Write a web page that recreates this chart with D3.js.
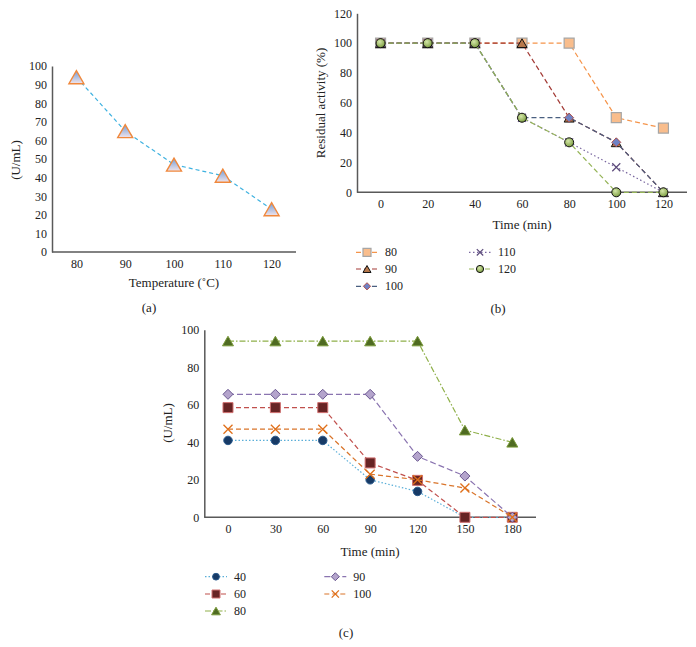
<!DOCTYPE html>
<html>
<head>
<meta charset="utf-8">
<script src="https://cdn.jsdelivr.net/npm/d3@7"></script>
<style>
  html, body { margin: 0; padding: 0; background: #fff; }
  svg { display: block; }
  text { font-family: "Liberation Serif", "DejaVu Serif", serif; fill: #222; }
</style>
</head>
<body>
<svg id="chart" width="696" height="647"></svg>
<script>
// ---------- DATA ----------
const tempCats = [80, 90, 100, 110, 120];
const activityA = [94, 65, 47, 41, 23];

const timeB = [0, 20, 40, 60, 80, 100, 120];
const seriesNamesB = ["80", "90", "100", "110", "120"];
const b80  = [100, 100, 100, 100, 100, 50, 43];
const b90  = [100, 100, 100, 100, 50, 33.5, 0];
const b100 = [100, 100, 100, 50, 50, 33.5, 0];
const b110 = [100, 100, 100, 50, 33.5, 16.8, 0];
const b120 = [100, 100, 100, 50, 33.5, 0, 0];

const timeC = [0, 30, 60, 90, 120, 150, 180];
const seriesNamesC = ["40", "60", "80", "90", "100"];
const c40  = [41, 41, 41, 20, 13.8, 0, 0];
const c60  = [58.5, 58.5, 58.5, 29, 19.7, 0, 0];
const c80  = [94, 94, 94, 94, 94, 46.5, 40];
const c90  = [65.6, 65.6, 65.6, 65.6, 32.5, 22, 0];
const c100 = [47, 47, 47, 23, 20, 15.6, 0];

const ticksA = [0, 10, 20, 30, 40, 50, 60, 70, 80, 90, 100];
const ticksB = [0, 20, 40, 60, 80, 100, 120];
const ticksC = [0, 20, 40, 60, 80, 100];

// ---------- HELPERS ----------
const svg = d3.select("#chart");
const defs = svg.append("defs");

const gA = defs.append("linearGradient").attr("id", "gradA").attr("x1", 0).attr("y1", 0).attr("x2", 0).attr("y2", 1);
gA.append("stop").attr("offset", "0%").attr("stop-color", "#6f9bd6");
gA.append("stop").attr("offset", "100%").attr("stop-color", "#f2e4ea");
const gG = defs.append("radialGradient").attr("id", "gradG").attr("cx", "40%").attr("cy", "35%").attr("r", "65%");
gG.append("stop").attr("offset", "0%").attr("stop-color", "#d4e6a8");
gG.append("stop").attr("offset", "100%").attr("stop-color", "#7fa044");

function markerPath(type, s) {
  const h = s / 2;
  switch (type) {
    case "square": return `M${-h},${-h}H${h}V${h}H${-h}Z`;
    case "diamond": return `M0,${-h}L${h},0L0,${h}L${-h},0Z`;
    case "triangle": { const th = s * 0.87; return `M0,${-th/2}L${h},${th/2}L${-h},${th/2}Z`; }
    case "circle": return `M${h},0A${h},${h} 0 1,1 ${-h},0A${h},${h} 0 1,1 ${h},0Z`;
    case "x": return `M${-h},${-h}L${h},${h}M${-h},${h}L${h},${-h}`;
  }
}

function drawAxes(g, x, y, ticks, x0, x1) {
  const ax = g.append("g").attr("transform", `translate(0,${y(0)})`)
    .call(d3.axisBottom(x).tickSize(0).tickSizeOuter(0).tickPadding(7));
  ax.select(".domain").attr("d", `M${x0},0H${x1}`);
  const ay = g.append("g").attr("transform", `translate(${x0},0)`)
    .call(d3.axisLeft(y).tickValues(ticks).tickSize(0).tickSizeOuter(0).tickPadding(5));
  [ax, ay].forEach(a => {
    a.select(".domain").attr("stroke", "#595959").attr("stroke-width", 1.5);
    a.selectAll("text").attr("font-family", "Liberation Serif").attr("font-size", 12).attr("fill", "#222");
  });
}

function drawSeries(g, x, y, cats, vals, st) {
  const line = d3.line().x((d, i) => x(cats[i])).y(d => y(d));
  g.append("path").datum(vals).attr("d", line)
    .attr("fill", "none").attr("stroke", st.line).attr("stroke-width", st.lw || 1.2)
    .attr("stroke-dasharray", st.dash);
  g.selectAll(null).data(vals).enter().append("path")
    .attr("transform", (d, i) => `translate(${x(cats[i])},${y(d)})`)
    .attr("d", markerPath(st.shape, st.size))
    .attr("fill", st.shape === "x" ? "none" : st.fill)
    .attr("stroke", st.stroke).attr("stroke-width", st.sw || 1);
}

function legendItem(g, lx, ly, label, st) {
  g.append("line").attr("x1", lx - 11).attr("x2", lx + 11).attr("y1", ly).attr("y2", ly)
    .attr("stroke", st.line).attr("stroke-width", st.lw || 1.2).attr("stroke-dasharray", st.dash);
  g.append("path").attr("transform", `translate(${lx},${ly})`)
    .attr("d", markerPath(st.shape, st.size * 0.8))
    .attr("fill", st.shape === "x" ? "none" : st.fill)
    .attr("stroke", st.stroke).attr("stroke-width", st.sw || 1);
  g.append("text").attr("x", lx + 18).attr("y", ly + 4).attr("font-size", 12).text(label);
}

function title(g, x, y, txt, rot) {
  const t = g.append("text").attr("text-anchor", "middle").attr("font-size", 13).text(txt);
  if (rot) t.attr("transform", `translate(${x},${y}) rotate(-90)`).attr("dy", "0.35em");
  else t.attr("x", x).attr("y", y);
}

// ---------- PANEL (a) ----------
{
  const g = svg.append("g");
  const x0 = 52, x1 = 296;
  const x = d3.scalePoint().domain(tempCats).range([x0, x1]).padding(0.5);
  const y = d3.scaleLinear().domain([0, 100]).range([252, 66]);
  drawAxes(g, x, y, ticksA, x0, x1);
  drawSeries(g, x, y, tempCats, activityA, {
    line: "#3fb2e0", dash: "4,3", lw: 1.2, shape: "triangle", size: 15,
    fill: "url(#gradA)", stroke: "#f0883c", sw: 1.4
  });
  title(g, 174, 287, "Temperature (˚C)");
  title(g, 15, 160, "(U/mL)", true);
  title(g, 149, 312, "(a)");
}

// ---------- PANEL (b) ----------
const stylesB = [
  { line: "#f5944a", dash: "5,3", shape: "square", size: 10, fill: "#f9bd8c", stroke: "#a6a6a6", sw: 1.2 },
  { line: "#a33b36", dash: "5,3", shape: "triangle", size: 10, fill: "#b8794c", stroke: "#111", sw: 1 },
  { line: "#4a5f80", dash: "5,3", shape: "diamond", size: 9, fill: "#6f82c4", stroke: "#b2524e", sw: 1 },
  { line: "#7a68a0", dash: "1.5,2.5", shape: "x", size: 8, fill: "none", stroke: "#5b4a7a", sw: 1.2 },
  { line: "#94b356", dash: "5,3", shape: "circle", size: 9, fill: "url(#gradG)", stroke: "#111", sw: 1 }
];
{
  const g = svg.append("g");
  const x0 = 357, x1 = 687;
  const x = d3.scalePoint().domain(timeB).range([x0, x1]).padding(0.5);
  const y = d3.scaleLinear().domain([0, 120]).range([192.3, 13.3]);
  drawAxes(g, x, y, ticksB, x0, x1);
  const vals = [b80, b90, b100, b110, b120];
  vals.forEach((v, i) => drawSeries(g, x, y, timeB, v, stylesB[i]));
  title(g, 522, 229, "Time (min)");
  title(g, 320, 103, "Residual activity (%)", true);
  const lg = svg.append("g");
  const pos = [[367, 252.3], [367, 269], [367, 286.3], [480, 252.3], [480, 269]];
  seriesNamesB.forEach((n, i) => legendItem(lg, pos[i][0], pos[i][1], n, stylesB[i]));
  title(g, 498, 313, "(b)");
}

// ---------- PANEL (c) ----------
const stylesC = [
  { line: "#5aaed8", dash: "1.5,2", shape: "circle", size: 8.5, fill: "#173a66", stroke: "#2b5a8c", sw: 1 },
  { line: "#c0504d", dash: "5,3", shape: "square", size: 10, fill: "#672424", stroke: "#d07070", sw: 1 },
  { line: "#8fb04a", dash: "6,2,1.5,2", shape: "triangle", size: 11, fill: "#4f6b22", stroke: "#7a9a3a", sw: 1 },
  { line: "#8a74b0", dash: "6,3", shape: "diamond", size: 10, fill: "#b4a4cc", stroke: "#6a5890", sw: 1 },
  { line: "#d9742a", dash: "5,3", shape: "x", size: 9, fill: "none", stroke: "#e0701a", sw: 1.3 }
];
{
  const g = svg.append("g");
  const x0 = 204.3, x1 = 536;
  const x = d3.scalePoint().domain(timeC).range([x0, x1]).padding(0.5);
  const y = d3.scaleLinear().domain([0, 100]).range([517.3, 329.8]);
  drawAxes(g, x, y, ticksC, x0, x1);
  const vals = [c40, c60, c80, c90, c100];
  vals.forEach((v, i) => drawSeries(g, x, y, timeC, v, stylesC[i]));
  title(g, 370, 556, "Time (min)");
  title(g, 167, 423, "(U/mL)", true);
  const lg = svg.append("g");
  const pos = [[216, 576.7], [216, 594], [216, 611], [335.3, 576.7], [335.3, 594]];
  seriesNamesC.forEach((n, i) => legendItem(lg, pos[i][0], pos[i][1], n, stylesC[i]));
  title(g, 346, 637, "(c)");
}
</script>
</body>
</html>
